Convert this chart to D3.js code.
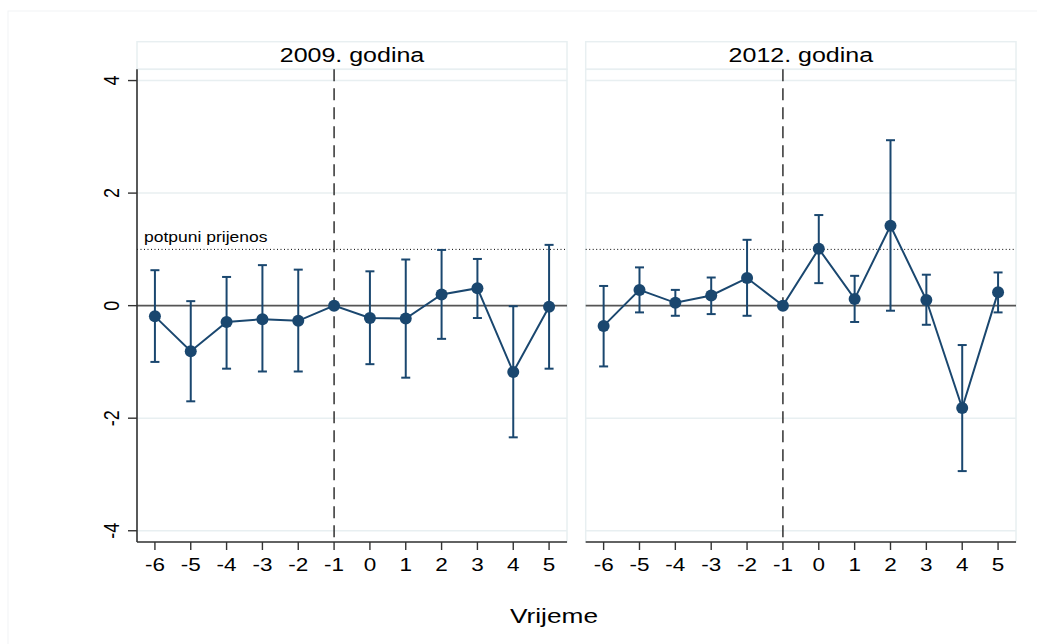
<!DOCTYPE html>
<html>
<head>
<meta charset="utf-8">
<script src="https://cdn.jsdelivr.net/npm/d3@7"></script>
<style>
    body { margin: 0; background: white; }
    text { font-family: "Liberation Sans", Arial, sans-serif; fill: black; }
</style>
</head>
<body>
<svg width="1037" height="644"></svg>
<script>
// Data
var periods = [-6, -5, -4, -3, -2, -1, 0, 1, 2, 3, 4, 5];

var est2009 = [-0.19, -0.81, -0.29, -0.24, -0.27, 0, -0.22, -0.23, 0.20, 0.31, -1.18, -0.02];
var lo2009 = [-1.00, -1.70, -1.12, -1.17, -1.17, null, -1.04, -1.28, -0.59, -0.22, -2.34, -1.12];
var hi2009 = [0.63, 0.08, 0.51, 0.72, 0.64, null, 0.61, 0.82, 0.99, 0.83, -0.01, 1.08];

var est2012 = [-0.36, 0.28, 0.05, 0.18, 0.49, 0, 1.01, 0.12, 1.42, 0.10, -1.82, 0.24];
var lo2012 = [-1.08, -0.12, -0.18, -0.15, -0.18, null, 0.40, -0.29, -0.09, -0.34, -2.94, -0.12];
var hi2012 = [0.35, 0.68, 0.28, 0.50, 1.17, null, 1.61, 0.53, 2.94, 0.55, -0.70, 0.59];

var panelTitles = ["2009. godina", "2012. godina"];
var yTicks = [-4, -2, 0, 2, 4];
var gridTicks = [-4, -2, 2, 4];
var fullPassThrough = 1;
var eventPeriod = -1;
var fullLabel = "potpuni prijenos";
var xTitle = "Vrijeme";

var navy = "#1a476f";
var light = "#e8eff1";
var sx = 1.25; // the reference text is stretched horizontally

var svg = d3.select("svg");

// Outer graph frame
svg.append("rect")
    .attr("x", 8).attr("y", 11)
    .attr("width", 1200).attr("height", 800)
    .attr("fill", "none")
    .attr("stroke", "#f1f4f5")
    .attr("stroke-width", 1);

var yScale = d3.scaleLinear().domain([-4.2, 4.2]).range([542, 69.3]);

var panels = [
    { title: panelTitles[0], est: est2009, lo: lo2009, hi: hi2009, left: 137, right: 567, yAxis: true },
    { title: panelTitles[1], est: est2012, lo: lo2012, hi: hi2012, left: 585.7, right: 1016, yAxis: false }
];

function stretchedText(g, x, y, txt, size, rotate) {
    return g.append("text")
        .attr("transform", "translate(" + x + "," + y + ") scale(" + sx + ",1)" + (rotate ? " rotate(-90)" : ""))
        .attr("text-anchor", "middle")
        .style("font-size", size + "px")
        .text(txt);
}

panels.forEach(function (p) {
    var g = svg.append("g");
    var xScale = d3.scaleLinear().domain([-6.5, 5.5]).range([p.left, p.right]);

    // Title box
    g.append("rect")
        .attr("x", p.left).attr("y", 41.7)
        .attr("width", p.right - p.left).attr("height", 27.6)
        .attr("fill", "white")
        .attr("stroke", light)
        .attr("stroke-width", 1.5);

    stretchedText(g, (p.left + p.right) / 2, 62, p.title, 20, false);

    // Plot region border
    g.append("rect")
        .attr("x", p.left).attr("y", yScale.range()[1])
        .attr("width", p.right - p.left).attr("height", yScale.range()[0] - yScale.range()[1])
        .attr("fill", "none")
        .attr("stroke", light)
        .attr("stroke-width", 1.5);

    // Gridlines
    g.selectAll("line.grid")
        .data(gridTicks)
        .enter()
        .append("line")
        .attr("class", "grid")
        .attr("x1", p.left).attr("x2", p.right)
        .attr("y1", d => yScale(d)).attr("y2", d => yScale(d))
        .style("stroke", light)
        .style("stroke-width", 1.5);

    // Zero line
    g.append("line")
        .attr("x1", p.left).attr("x2", p.right)
        .attr("y1", yScale(0)).attr("y2", yScale(0))
        .style("stroke", "#555555")
        .style("stroke-width", 1.6);

    // Full pass-through line
    g.append("line")
        .attr("x1", p.left).attr("x2", p.right)
        .attr("y1", yScale(fullPassThrough)).attr("y2", yScale(fullPassThrough))
        .style("stroke", "black")
        .style("stroke-width", 1)
        .style("stroke-dasharray", "1,2.5");

    if (p.yAxis) {
        stretchedText(g, p.left + 7, yScale(fullPassThrough) - 7, fullLabel, 14, false)
            .attr("text-anchor", "start");
    }

    // Event line
    g.append("line")
        .attr("x1", xScale(eventPeriod)).attr("x2", xScale(eventPeriod))
        .attr("y1", yScale.range()[1]).attr("y2", yScale.range()[0])
        .style("stroke", "#222222")
        .style("stroke-width", 1.4)
        .style("stroke-dasharray", "12,7");

    // X axis
    g.append("line")
        .attr("x1", p.left).attr("x2", p.right)
        .attr("y1", yScale.range()[0]).attr("y2", yScale.range()[0])
        .style("stroke", "#333333")
        .style("stroke-width", 1.6);

    g.selectAll("line.xtick")
        .data(periods)
        .enter()
        .append("line")
        .attr("class", "xtick")
        .attr("x1", d => xScale(d)).attr("x2", d => xScale(d))
        .attr("y1", yScale.range()[0]).attr("y2", yScale.range()[0] + 8)
        .style("stroke", "#333333")
        .style("stroke-width", 1.4);

    periods.forEach(function (d) {
        stretchedText(g, xScale(d), 571, d, 18, false);
    });

    // Y axis (left panel only)
    if (p.yAxis) {
        g.append("line")
            .attr("x1", p.left).attr("x2", p.left)
            .attr("y1", yScale.range()[1]).attr("y2", yScale.range()[0])
            .style("stroke", "#333333")
            .style("stroke-width", 1.6);

        g.selectAll("line.ytick")
            .data(yTicks)
            .enter()
            .append("line")
            .attr("class", "ytick")
            .attr("x1", p.left - 9).attr("x2", p.left)
            .attr("y1", d => yScale(d)).attr("y2", d => yScale(d))
            .style("stroke", "#333333")
            .style("stroke-width", 1.4);

        yTicks.forEach(function (d) {
            stretchedText(g, 119, yScale(d), d, 18, true);
        });
    }

    // Confidence intervals
    var ci = periods.map((d, i) => ({ x: d, lo: p.lo[i], hi: p.hi[i] })).filter(d => d.lo !== null);

    g.selectAll("line.ci")
        .data(ci)
        .enter()
        .append("line")
        .attr("class", "ci")
        .attr("x1", d => xScale(d.x)).attr("x2", d => xScale(d.x))
        .attr("y1", d => yScale(d.lo)).attr("y2", d => yScale(d.hi))
        .style("stroke", navy)
        .style("stroke-width", 2);

    ["lo", "hi"].forEach(function (k) {
        g.selectAll("line.cap" + k)
            .data(ci)
            .enter()
            .append("line")
            .attr("class", "cap" + k)
            .attr("x1", d => xScale(d.x) - 4.5).attr("x2", d => xScale(d.x) + 4.5)
            .attr("y1", d => yScale(d[k])).attr("y2", d => yScale(d[k]))
            .style("stroke", navy)
            .style("stroke-width", 2);
    });

    // Estimates
    var pts = periods.map((d, i) => ({ x: d, y: p.est[i] }));

    g.append("path")
        .attr("d", d3.line().x(d => xScale(d.x)).y(d => yScale(d.y))(pts))
        .attr("fill", "none")
        .attr("stroke", navy)
        .attr("stroke-width", 2);

    g.selectAll("circle")
        .data(pts)
        .enter()
        .append("circle")
        .attr("cx", d => xScale(d.x))
        .attr("cy", d => yScale(d.y))
        .attr("r", 6)
        .attr("fill", navy);
});

// X axis title
stretchedText(svg, 554, 623, xTitle, 21, false);
</script>
</body>
</html>
